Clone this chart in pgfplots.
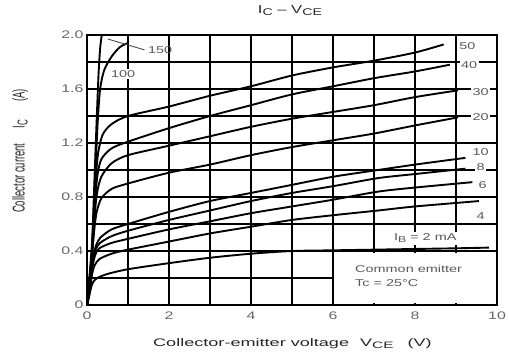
\documentclass[border=0pt]{standalone}
\usepackage{pgfplots}
\pgfplotsset{compat=1.18}
\usepackage{fontspec}
\usepackage{graphicx}
\setmainfont{Liberation Sans}[FakeStretch=1.45]
\newfontfamily\plainfont{Liberation Sans}
\newfontfamily\widefont{Liberation Sans}[FakeStretch=1.65]
\newcommand{\sub}[1]{\raisebox{-0.35ex}{\scalebox{0.85}{#1}}}
\begin{document}
\begin{tikzpicture}
\begin{axis}[
  scale only axis, width=410bp, height=270bp,
  xmin=0, xmax=10, ymin=0, ymax=2,
  xtick={0,1,2,3,4,5,6,7,8,9,10},
  xticklabels={0,,2,,4,,6,,8,,10},
  ytick={0,0.2,0.4,0.6,0.8,1.0,1.2,1.4,1.6,1.8,2.0},
  yticklabels={0,,0.4,,0.8,,1.2,,1.6,,2.0},
  major tick length=0pt,
  grid=major,
  major grid style={black, line width=1.9pt},
  axis line style={black, line width=1.9pt},
  /pgf/number format/assume math mode=true,
  tick label style={font=\fontsize{11}{13}\selectfont, text=black!60},
  xticklabel style={yshift=-3bp},
  yticklabel style={xshift=0bp},
  title={I\sub{C} -- V\sub{CE}},
  title style={at={(rel axis cs:0.495,1.059)}, anchor=base, font=\fontsize{11.5}{13}\selectfont, text=black!85},
  xlabel={\widefont Collector-emitter voltage\hspace{11bp}V\sub{CE}\hspace{14bp}(V)},
  xlabel style={at={(rel axis cs:0.501,-0.144)}, anchor=center, font=\fontsize{11}{13}\selectfont, text=black!85},
  ylabel={\scalebox{1}[1.8]{\plainfont\fontsize{9.5}{11}\selectfont Collector current\hspace{15bp}I\sub{C}\hspace{18bp}(A)}},
  ylabel style={at={(rel axis cs:-0.163,0.57)}, anchor=center, text=black!85},
  cycle list={{black, solid, mark=none}},
  every axis plot/.append style={black, solid, mark=none, line width=1.9pt, smooth, tension=0.45},
  clip=false,
]
% Common emitter box (covers grid)
\fill[white] (axis cs:6.03,0.014) rectangle (axis cs:9.97,0.388);
\draw[line width=1.9pt] (axis cs:6,0) -- (axis cs:6,0.4) -- (axis cs:10,0.4);

% IB = 2 mA
\addplot coordinates {(0,0) (0.05,0.06) (0.1,0.13) (0.15,0.17) (0.25,0.2) (0.5,0.23) (1,0.265) (2,0.31) (3,0.35) (4,0.38) (5,0.40) (6,0.405) (7,0.41) (8,0.415) (9,0.42) (9.8,0.425)};
% 4 mA
\addplot coordinates {(0,0) (0.06,0.1) (0.12,0.22) (0.18,0.29) (0.3,0.34) (0.6,0.38) (1,0.41) (2,0.47) (3,0.53) (4,0.58) (5,0.63) (6,0.665) (7.1,0.70) (8,0.73) (9.56,0.77)};
% 6 mA
\addplot coordinates {(0,0) (0.07,0.12) (0.13,0.28) (0.2,0.37) (0.3,0.42) (0.6,0.46) (1,0.49) (2,0.56) (3,0.62) (4,0.68) (5,0.73) (6,0.78) (7.1,0.84) (8,0.87) (9.4,0.91)};
% 8 mA
\addplot coordinates {(0,0) (0.07,0.13) (0.14,0.31) (0.21,0.41) (0.32,0.46) (0.6,0.51) (1,0.55) (2,0.63) (3,0.70) (4,0.77) (5,0.83) (6,0.88) (7.1,0.94) (8,0.97) (9.23,1.01)};
% 10 mA
\addplot coordinates {(0,0) (0.08,0.15) (0.15,0.34) (0.22,0.44) (0.33,0.50) (0.6,0.56) (1,0.60) (2,0.69) (3,0.77) (4,0.83) (5,0.89) (6,0.95) (7.1,1.00) (8,1.04) (9.23,1.09)};
% 20 mA
\addplot coordinates {(0,0) (0.09,0.2) (0.16,0.5) (0.23,0.68) (0.35,0.79) (0.6,0.86) (1,0.90) (2,0.98) (3,1.04) (4,1.11) (5,1.17) (6,1.22) (7,1.27) (8,1.33) (9.05,1.39)};
% 30 mA
\addplot coordinates {(0,0) (0.1,0.25) (0.17,0.6) (0.24,0.82) (0.35,0.95) (0.6,1.05) (1,1.11) (2,1.18) (3,1.25) (4,1.32) (5,1.38) (6,1.43) (7,1.48) (8,1.54) (9.05,1.59)};
% 40 mA
\addplot coordinates {(0,0) (0.1,0.3) (0.18,0.7) (0.25,0.95) (0.35,1.08) (0.6,1.16) (1,1.21) (2,1.31) (3,1.40) (4,1.48) (5,1.56) (6,1.62) (7,1.68) (8,1.73) (8.85,1.78)};
% 50 mA
\addplot coordinates {(0,0) (0.11,0.35) (0.19,0.8) (0.26,1.1) (0.38,1.26) (0.6,1.34) (1,1.40) (2,1.47) (3,1.55) (4,1.62) (5,1.70) (6,1.76) (7,1.81) (8,1.87) (8.7,1.93)};
% 100 mA
\addplot coordinates {(0,0) (0.12,0.4) (0.2,0.95) (0.26,1.35) (0.32,1.6) (0.42,1.74) (0.6,1.84) (0.8,1.91) (1.0,1.94)};
% 150 mA
\addplot coordinates {(0,0) (0.12,0.45) (0.19,1.0) (0.24,1.4) (0.28,1.7) (0.32,1.9) (0.36,2.0)};

% leader for 150
\draw[black!70, line width=0.9pt] (axis cs:1.40,1.89) -- (axis cs:0.51,1.97);

\begin{scope}[every node/.style={font=\fontsize{10}{12}\selectfont, text=black!65, inner sep=1.5pt}]
\node[anchor=west] at (axis cs:1.45,1.89) {150};
\node[fill=white] at (axis cs:0.88,1.71) {100};
\node[fill=white] at (axis cs:9.28,1.92) {50};
\node[fill=white] at (axis cs:9.32,1.78) {40};
\node[fill=white] at (axis cs:9.6,1.575) {30};
\node[fill=white] at (axis cs:9.6,1.39) {20};
\node[fill=white] at (axis cs:9.6,1.135) {10};
\node[fill=white] at (axis cs:9.6,1.025) {8};
\node[fill=white] at (axis cs:9.65,0.89) {6};
\node[fill=white] at (axis cs:9.6,0.66) {4};
\node[fill=white, inner sep=2pt] at (axis cs:8.25,0.495) {I\sub{B} = 2 mA};
\node[anchor=west] at (axis cs:6.5,0.27) {Common emitter};
\node[anchor=west] at (axis cs:6.5,0.16) {Tc = 25\textdegree C};
\end{scope}

\coordinate (o) at (rel axis cs:0,0);
\end{axis}
\pgfresetboundingbox
\useasboundingbox ([shift={(-87bp,-53bp)}]o) rectangle ++(509bp,358bp);
\end{tikzpicture}
\end{document}
